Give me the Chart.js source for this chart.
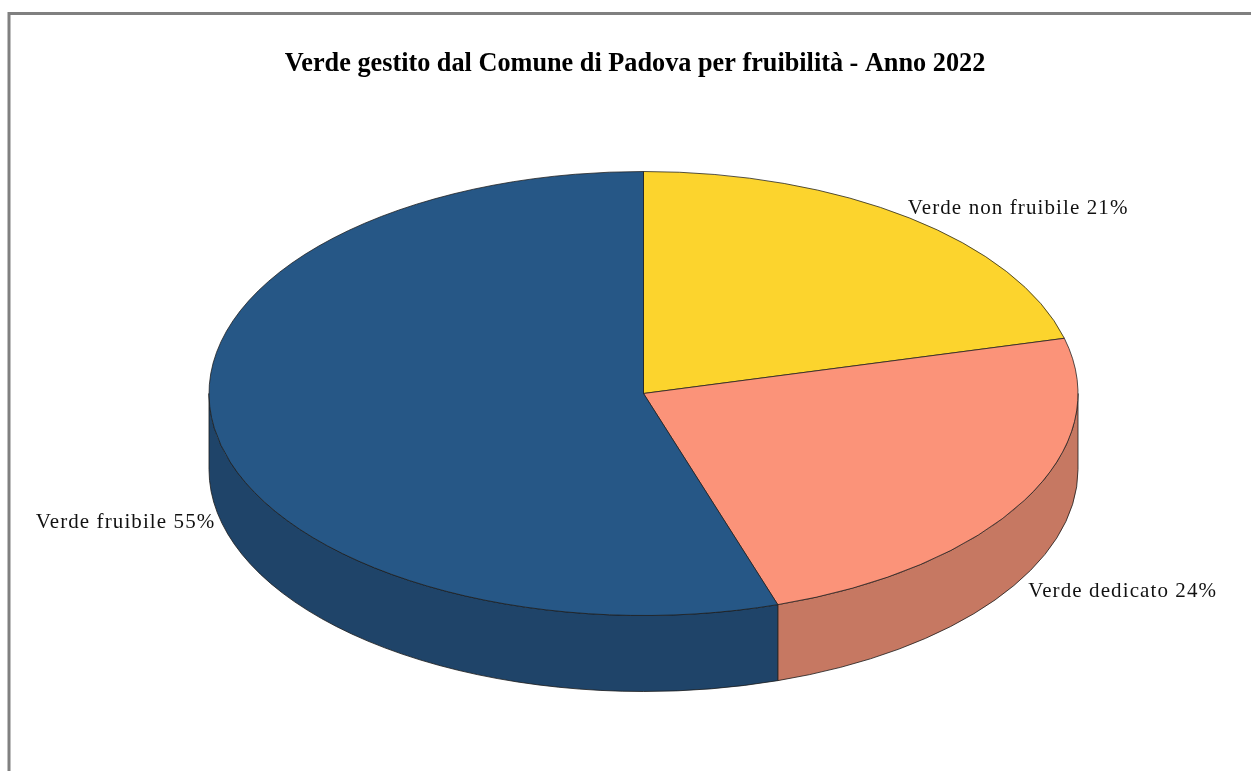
<!DOCTYPE html>
<html>
<head>
<meta charset="utf-8">
<style>
html,body{margin:0;padding:0;background:#fff;overflow:hidden}
canvas{display:block}
</style>
<script src="https://cdn.jsdelivr.net/npm/chart.js@4/dist/chart.umd.js"></script>
</head>
<body>
<canvas id="c" width="1251" height="771"></canvas>
<script>
const categories = ['Verde non fruibile', 'Verde dedicato', 'Verde fruibile'];
const values = [21, 24, 55];
const topColors = ['#FCD42D', '#FB9379', '#265786'];
const sideColors = ['#BD9F22', '#C67862', '#1F4469'];
const chartTitle = 'Verde gestito dal Comune di Padova per fruibilità - Anno 2022';

const CX = 643.5, CY = 393.5, RX = 434.5, RY = 222, DEPTH = 76;
const OUTLINE = '#1c1c1c';
const labelPlacement = [
  {align: 'left', dx: -2, dy: -4, wall: false},
  {align: 'left', dx: 4, dy: 21, wall: true},
  {align: 'right', dx: 1, dy: 24, wall: true}
];

const pie3d = {
  id: 'pie3d',
  beforeDraw(chart) {
    const ctx = chart.ctx;
    ctx.save();
    ctx.fillStyle = '#fff';
    ctx.fillRect(0, 0, chart.width, chart.height);
    ctx.strokeStyle = '#808080';
    ctx.lineWidth = 3;
    ctx.beginPath();
    ctx.moveTo(9, chart.height);
    ctx.lineTo(9, 13.5);
    ctx.lineTo(chart.width, 13.5);
    ctx.stroke();
    ctx.restore();
  },
  beforeDatasetsDraw(chart) {
    const ctx = chart.ctx;
    const arcs = chart.getDatasetMeta(0).data;
    ctx.save();
    ctx.lineWidth = 0.8;
    ctx.strokeStyle = OUTLINE;
    arcs.forEach((arc, i) => {
      const a = Math.max(arc.startAngle, 0);
      const b = Math.min(arc.endAngle, Math.PI);
      if (b <= a) return;
      ctx.beginPath();
      ctx.ellipse(CX, CY, RX, RY, 0, a, b);
      ctx.ellipse(CX, CY + DEPTH, RX, RY, 0, b, a, true);
      ctx.closePath();
      ctx.fillStyle = sideColors[i];
      ctx.fill();
      ctx.stroke();
    });
    ctx.restore();
    ctx.save();
    const first = arcs[0];
    ctx.translate(CX, CY);
    ctx.scale(1, RY / RX);
    ctx.translate(-first.x, -first.y);
  },
  afterDatasetsDraw(chart) {
    const ctx = chart.ctx;
    ctx.restore();
    const arcs = chart.getDatasetMeta(0).data;
    ctx.save();
    ctx.font = '21px "Liberation Serif"';
    ctx.letterSpacing = '1.1px';
    ctx.fillStyle = '#111';
    ctx.textBaseline = 'alphabetic';
    arcs.forEach((arc, i) => {
      const mid = (arc.startAngle + arc.endAngle) / 2;
      const p = labelPlacement[i];
      const x = CX + RX * Math.cos(mid) + p.dx;
      const y = CY + RY * Math.sin(mid) + (p.wall ? DEPTH : 0) + p.dy;
      ctx.textAlign = p.align;
      ctx.fillText(categories[i] + ' ' + values[i] + '%', x, y);
    });
    ctx.restore();
  }
};

new Chart(document.getElementById('c'), {
  type: 'pie',
  data: {
    labels: categories,
    datasets: [{
      data: values,
      backgroundColor: topColors,
      borderColor: OUTLINE,
      borderWidth: 1,
      clip: false
    }]
  },
  options: {
    responsive: false,
    animation: false,
    radius: RX,
    layout: {padding: {left: 19}},
    plugins: {
      legend: {display: false},
      tooltip: {enabled: false},
      title: {
        display: true,
        text: chartTitle,
        color: '#000',
        font: {family: '"Liberation Serif"', size: 26.25, weight: 'bold'},
        padding: {top: 48, bottom: 10}
      }
    }
  },
  plugins: [pie3d]
});
</script>
</body>
</html>
